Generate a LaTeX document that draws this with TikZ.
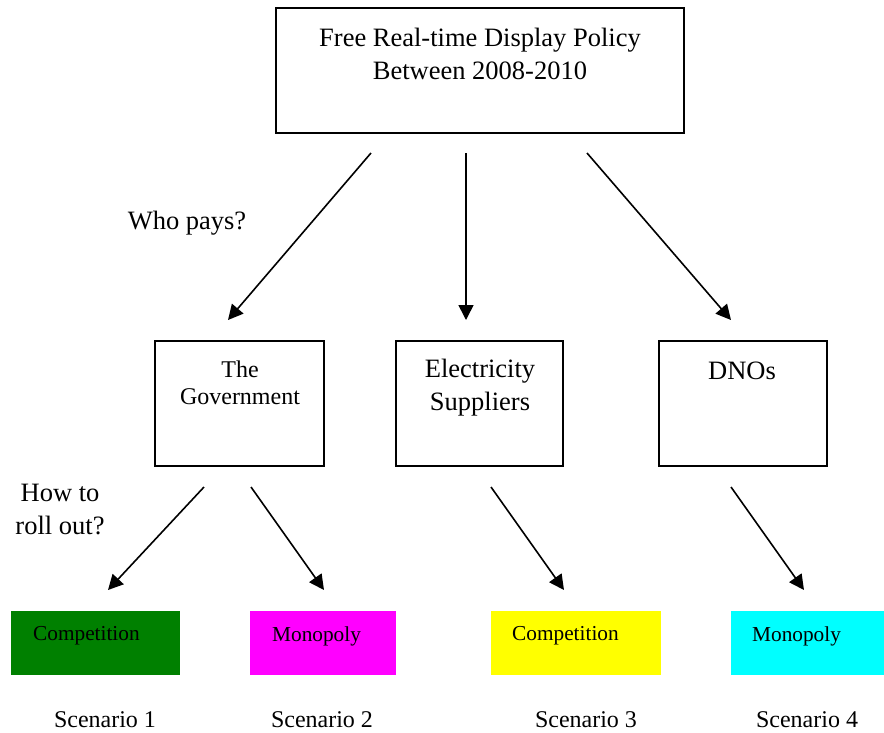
\documentclass[tikz,border=0pt]{standalone}
\usepackage{fontspec}
\setmainfont{Liberation Serif}
\usetikzlibrary{arrows.meta}
\definecolor{boxgreen}{RGB}{0,128,0}
\definecolor{boxmagenta}{RGB}{255,0,255}
\definecolor{boxyellow}{RGB}{255,255,0}
\definecolor{boxcyan}{RGB}{0,255,255}
\tikzset{
  plainbox/.style={draw, line width=1.7pt},
  bigtext/.style={font=\fontsize{26.5}{33}\selectfont, align=center, inner sep=0pt},
  midtext/.style={font=\fontsize{24}{27}\selectfont, align=center, inner sep=0pt},
  smalltext/.style={font=\fontsize{21.3}{24}\selectfont, anchor=west, inner sep=0pt},
  pointer/.style={line width=1.6pt, -{Triangle[length=15pt,width=15pt]}},
}
\begin{document}
\begin{tikzpicture}[x=1pt,y=-1pt]
\useasboundingbox (0,0) rectangle (884,732);

% top box
\draw[plainbox] (276,8) rectangle (684,133);
\node[bigtext] (policy) at (480,54) {Free Real-time Display Policy\\Between 2008-2010};

% payer boxes
\draw[plainbox] (155,341) rectangle (324,466);
\node[midtext] (gov) at (240,383) {The\\Government};
\draw[plainbox] (396,341) rectangle (563,466);
\node[bigtext] (elec) at (480,388) {Electricity\\Suppliers};
\draw[plainbox] (659,341) rectangle (827,466);
\node[bigtext] (dno) at (742,371) {DNOs};

% questions
\node[bigtext] (who) at (187,223) {Who pays?};
\node[bigtext] (how) at (60,510) {How to\\roll out?};

% scenario boxes
\fill[boxgreen] (11,611) rectangle (180,675);
\node[smalltext] (s1) at (33,636) {Competition};
\fill[boxmagenta] (250,611) rectangle (396,675);
\node[smalltext] (s2) at (272,636) {Monopoly};
\fill[boxyellow] (491,611) rectangle (661,675);
\node[smalltext] (s3) at (512,636) {Competition};
\fill[boxcyan] (731,611) rectangle (884,675);
\node[smalltext] (s4) at (752,636) {Monopoly};

% scenario labels
\node[midtext] (l1) at (105,720) {Scenario 1};
\node[midtext] (l2) at (322,720) {Scenario 2};
\node[midtext] (l3) at (586,720) {Scenario 3};
\node[midtext] (l4) at (807,720) {Scenario 4};

% arrow end points
\coordinate (a1s) at (371,153); \coordinate (a1e) at (228,320);
\coordinate (a2s) at (466,153); \coordinate (a2e) at (466,320);
\coordinate (a3s) at (587,153); \coordinate (a3e) at (731,320);
\coordinate (b1s) at (204,487); \coordinate (b1e) at (108,590);
\coordinate (b2s) at (251,487); \coordinate (b2e) at (324,590);
\coordinate (b3s) at (491,487); \coordinate (b3e) at (564,590);
\coordinate (b4s) at (731,487); \coordinate (b4e) at (804,590);

\draw[pointer] (a1s) -- (a1e);
\draw[pointer] (a2s) -- (a2e);
\draw[pointer] (a3s) -- (a3e);
\draw[pointer] (b1s) -- (b1e);
\draw[pointer] (b2s) -- (b2e);
\draw[pointer] (b3s) -- (b3e);
\draw[pointer] (b4s) -- (b4e);
\end{tikzpicture}
\end{document}
